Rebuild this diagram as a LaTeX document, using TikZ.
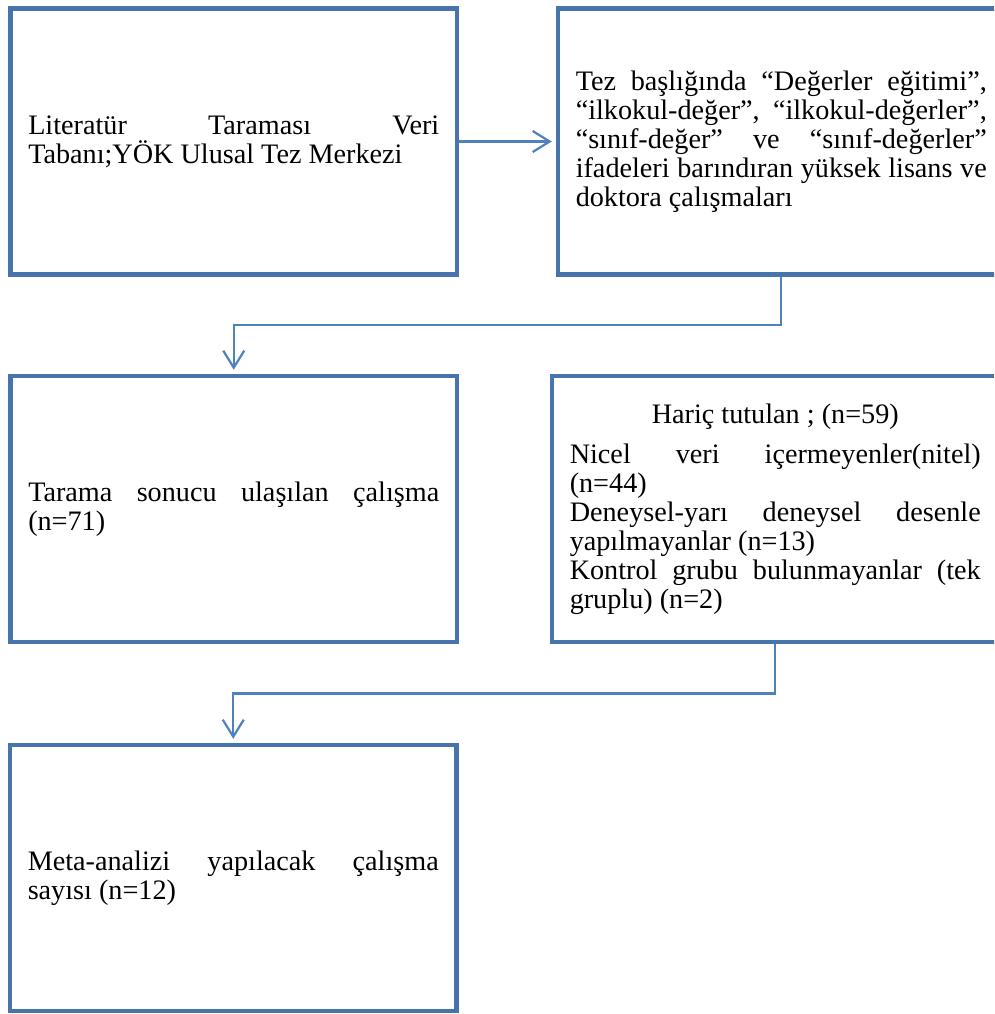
\documentclass[tikz,border=0pt]{standalone}
\usepackage{fontspec}
\setmainfont{Liberation Serif}
\usetikzlibrary{arrows.meta}
\definecolor{boxblue}{RGB}{72,116,173}
\definecolor{lineblue}{RGB}{79,129,189}
\setlength{\parindent}{0pt}
\hyphenpenalty=10000
\exhyphenpenalty=10000
\tikzset{
  flowbox/.style={draw=boxblue, line width=4.5pt, fill=white, rectangle,
    minimum width=446.5pt, minimum height=266pt, text width=411pt,
    inner xsep=17.75pt, inner ysep=0pt, align=justify,
    font=\fontsize{28.2pt}{29pt}\selectfont},
  flowarrow/.style={draw=lineblue, line width=2.2pt, shorten >=4pt,
    -{Straight Barb[length=17pt,width=21pt]}}
}

\begin{document}
\begin{tikzpicture}[x=1pt,y=-1pt]
	\clip (0,0) rectangle (994,1014);
	\fill[white] (0,0) rectangle (994,1014);

	\node[flowbox] (tarama) at (233.75,141.5) {Literatür Taraması Veri\linebreak Tabanı;YÖK Ulusal Tez Merkezi};
	\node[flowbox] (tezler) at (781.25,141.5) {Tez başlığında “Değerler eğitimi”,\linebreak “ilkokul-değer”, “ilkokul-değerler”,\linebreak “sınıf-değer” ve “sınıf-değerler”\linebreak ifadeleri barındıran yüksek lisans ve\linebreak doktora çalışmaları};
	\node[flowbox] (sonuc) at (233.75,509) {Tarama sonucu ulaşılan çalışma\linebreak (n=71)};
	\node[flowbox] (haric) at (775.25,509) {{\centering Hariç tutulan ; (n=59)\par}\vspace{11pt}
		Nicel veri içermeyenler(nitel)\linebreak (n=44)\par
		Deneysel-yarı deneysel desenle\linebreak yapılmayanlar (n=13)\par
		Kontrol grubu bulunmayanlar (tek\linebreak gruplu) (n=2)};
	\node[flowbox] (meta) at (233.25,878) {Meta-analizi yapılacak çalışma\linebreak sayısı (n=12)};

	\coordinate (dirsek1) at (0,325);
	\coordinate (dirsek2) at (0,693.5);

	\draw[flowarrow] (tarama) -- (tezler);
	\draw[flowarrow] (tezler.south) -- (tezler.south |- dirsek1) -| (sonuc.north);
	\draw[flowarrow] (haric.south) -- (haric.south |- dirsek2) -| (meta.north);
\end{tikzpicture}
\end{document}
